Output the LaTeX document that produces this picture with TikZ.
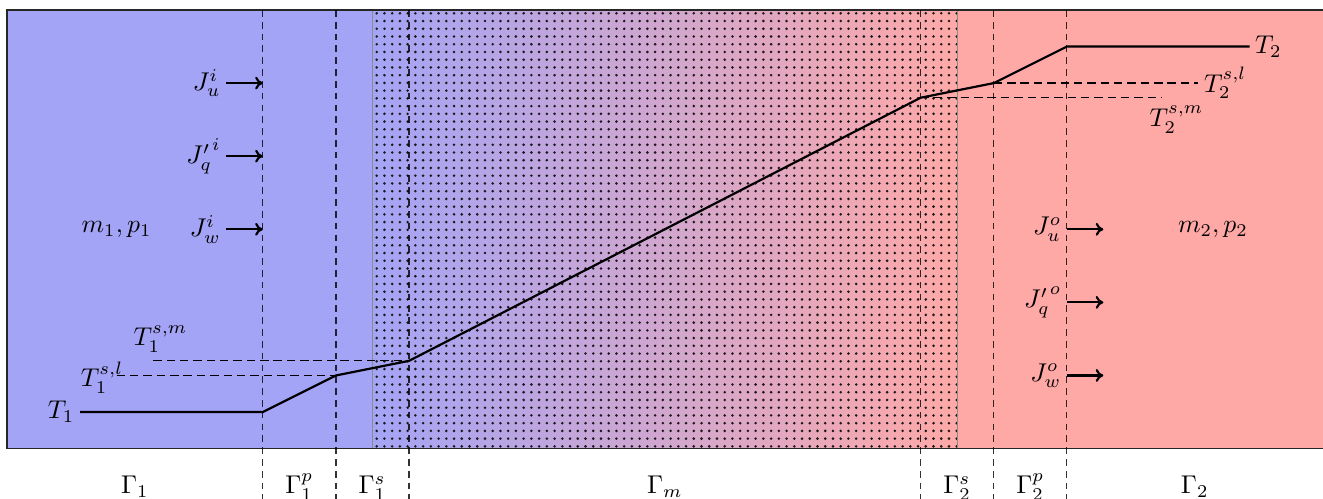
\documentclass[tikz,border=0pt]{standalone}
\usetikzlibrary{arrows.meta}
\definecolor{fluidA}{RGB}{164,164,246}
\definecolor{fluidB}{RGB}{255,169,167}
\begin{document}
\begin{tikzpicture}[
  vline/.style={draw=black, draw opacity=0.8, dash pattern=on 2.6pt off 2pt, line width=0.5pt},
  hline/.style={draw=black, dash pattern=on 3.3pt off 1.9pt, line width=0.5pt},
  prof/.style={line width=0.85pt},
  flux/.style={-{To[length=3pt,width=5pt]}, line width=0.85pt},
  lab/.style={inner sep=2pt},
  dotfill/.style={fill=black!90}
]
\useasboundingbox (-0.096,-0.6765) rectangle (18.005,6.137);
% regions
\fill[fluidA] (0,0) rectangle (5,6);
\fill[fluidB] (13,0) rectangle (18.3,6);
\shade[left color=fluidA,right color=fluidB] (5,0) rectangle (13,6);
% porous matrix dots
\foreach \i in {0,...,75}{
  \path[dotfill] \foreach \j in {0,...,56}{ (5.058+\i*0.1058,0.03+\j*0.1058) circle (0.55pt) };
}
\draw[black!45, line width=0.5pt] (5,0) -- (5,6) (13,0) -- (13,6);
\draw[black!85, line width=0.6pt] (0,0) rectangle (18.3,6);
% vertical interfaces
\foreach \x/\n in {3.5/a,4.5/b,5.5/c,12.5/d,13.5/e,14.5/f}{
  \coordinate (top\n) at (\x,6);
  \coordinate (bot\n) at (\x,-0.9);
  \draw[vline] (top\n) -- (bot\n);
}
% temperature profile
\coordinate (p0) at (1,0.5);
\coordinate (p1) at (3.5,0.5);
\coordinate (p2) at (4.5,1);
\coordinate (p3) at (5.5,1.2);
\coordinate (p4) at (12.5,4.8);
\coordinate (p5) at (13.5,5);
\coordinate (p6) at (14.5,5.5);
\coordinate (p7) at (17,5.5);
\draw[prof] (p0) -- (p1) -- (p2) -- (p3) -- (p4) -- (p5) -- (p6) -- (p7);
\node[lab, left] (T1) at (p0) {$T_1$};
\node[lab, right] (T2) at (p7) {$T_2$};
% interface temperature levels
\coordinate (h1) at (1.5,1);
\coordinate (h2) at (2,1.2);
\coordinate (h3) at (16.3,5);
\coordinate (h4) at (15.8,4.8);
\draw[hline] (h1) -- (p2);
\draw[hline] (h2) -- (p3);
\draw[hline] (p5) -- (h3);
\draw[hline] (p4) -- (h4);
\node (T1sl) at (1.3,0.97) {$T_1^{s,l}$};
\node (T1sm) at (2.1,1.5) {$T_1^{s,m}$};
\node[lab, right] (T2sl) at (h3) {$T_2^{s,l}$};
\node (T2sm) at (16,4.5) {$T_2^{s,m}$};
% fluxes in
\foreach \y/\n/\t in {5/u/{J_u^i},4/q/{{J'_q}^i},3/w/{J_w^i}}{
  \coordinate (is\n) at (3,\y);
  \coordinate (ie\n) at (3.5,\y);
  \draw[flux] (is\n) -- (ie\n);
  \node[lab, left] (il\n) at (is\n) {$\t$};
}
% fluxes out
\foreach \y/\n/\t in {3/u/{J_u^o},2/q/{{J'_q}^o},1/w/{J_w^o}}{
  \coordinate (os\n) at (14.5,\y);
  \coordinate (oe\n) at (15,\y);
  \draw[flux] (os\n) -- (oe\n);
  \node[lab, left] (ol\n) at (os\n) {$\t$};
}
\node (mp1) at (1.5,3) {$m_1, p_1$};
\node (mp2) at (16.5,3) {$m_2, p_2$};
% boundary labels
\foreach \x/\n/\t in {1.75/g1/{\Gamma_1},4/g1p/{\Gamma_1^p},5/g1s/{\Gamma_1^s},9/gm/{\Gamma_m},13/g2s/{\Gamma_2^s},14/g2p/{\Gamma_2^p},16.25/g2/{\Gamma_2}}{
  \node[anchor=base] (\n) at (\x,-0.62) {$\t$};
}
\end{tikzpicture}
\end{document}
